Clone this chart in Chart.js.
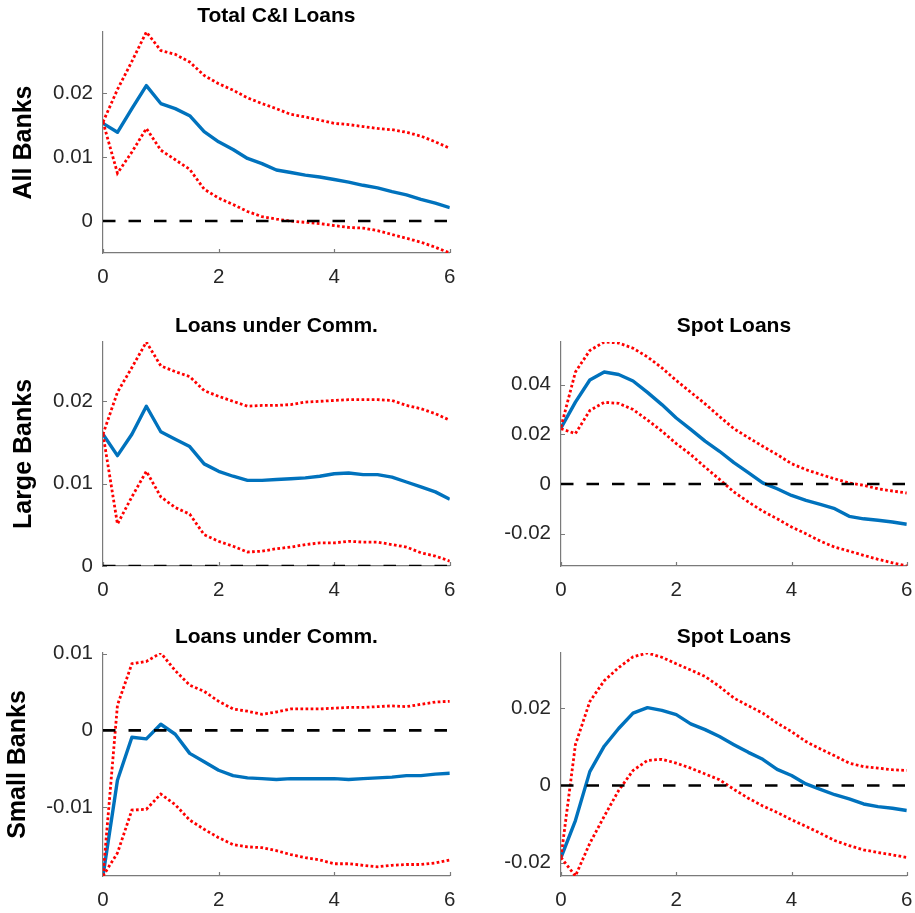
<!DOCTYPE html>
<html lang="en">
<head>
    <meta charset="UTF-8">
    <title>C&amp;I loan responses by bank size</title>
    <script src="https://cdn.jsdelivr.net/npm/chart.js@4.4.0/dist/chart.umd.min.js"></script>
    <style>
        body { margin: 0; background: #fff; overflow: hidden; }
        #figure { position: relative; width: 915px; height: 913px; background: #fff; overflow: hidden; }
        .panel { position: absolute; }
        .panel canvas { display: block; }
    </style>
</head>
<body>

<div id="figure">
    <div class="panel" style="left:0;top:0"><canvas id="allTotal" width="468" height="290"></canvas></div>
    <div class="panel" style="left:0;top:310px"><canvas id="largeComm" width="468" height="293"></canvas></div>
    <div class="panel" style="left:460px;top:310px"><canvas id="largeSpot" width="465" height="293"></canvas></div>
    <div class="panel" style="left:0;top:621px"><canvas id="smallComm" width="468" height="292"></canvas></div>
    <div class="panel" style="left:460px;top:621px"><canvas id="smallSpot" width="465" height="292"></canvas></div>
</div>

<script>
    // horizon (years), one point per quarter
    const horizon = [0, 0.25, 0.5, 0.75, 1, 1.25, 1.5, 1.75, 2, 2.25, 2.5, 2.75, 3,
        3.25, 3.5, 3.75, 4, 4.25, 4.5, 4.75, 5, 5.25, 5.5, 5.75, 6];
    const xTicks = [0, 2, 4, 6];

    // All banks - total C&I loans
    const allTotalIrf = [0.0153, 0.0139, 0.0176, 0.0212, 0.0184, 0.0176, 0.0165, 0.0140, 0.0124, 0.0112, 0.0098, 0.0090, 0.0080,
        0.0076, 0.0072, 0.0069, 0.0065, 0.0061, 0.0056, 0.0052, 0.0046, 0.0041, 0.0034, 0.0028, 0.0021];
    const allTotalUpper = [0.0155, 0.0206, 0.0250, 0.0296, 0.0267, 0.0261, 0.0249, 0.0228, 0.0215, 0.0205, 0.0193, 0.0184, 0.0176,
        0.0167, 0.0163, 0.0158, 0.0153, 0.0151, 0.0148, 0.0145, 0.0143, 0.0139, 0.0133, 0.0124, 0.0114];
    const allTotalLower = [0.0155, 0.0075, 0.0108, 0.0145, 0.0111, 0.0096, 0.0081, 0.0050, 0.0036, 0.0026, 0.0015, 0.0007, 0.0003,
        0.0000, -0.0002, -0.0004, -0.0007, -0.0010, -0.0011, -0.0015, -0.0021, -0.0027, -0.0033, -0.0041, -0.0050];
    const allTotalTicks = [0, 0.01, 0.02];

    // Large banks - loans under commitment
    const largeCommIrf = [0.0160, 0.0134, 0.0160, 0.0194, 0.0163, 0.0154, 0.0145, 0.0124, 0.0115, 0.0109, 0.0104, 0.0104, 0.0105,
        0.0106, 0.0107, 0.0109, 0.0112, 0.0113, 0.0111, 0.0111, 0.0108, 0.0102, 0.0096, 0.0090, 0.0081];
    const largeCommUpper = [0.0160, 0.0211, 0.0241, 0.0272, 0.0243, 0.0236, 0.0230, 0.0213, 0.0206, 0.0200, 0.0194, 0.0195, 0.0195,
        0.0196, 0.0199, 0.0200, 0.0201, 0.0202, 0.0202, 0.0202, 0.0201, 0.0195, 0.0191, 0.0185, 0.0177];
    const largeCommLower = [0.0160, 0.0051, 0.0084, 0.0115, 0.0084, 0.0071, 0.0063, 0.0038, 0.0030, 0.0024, 0.0017, 0.0018, 0.0021,
        0.0023, 0.0026, 0.0028, 0.0028, 0.0030, 0.0029, 0.0029, 0.0026, 0.0023, 0.0016, 0.0012, 0.0006];
    const largeCommTicks = [0, 0.01, 0.02];

    // Large banks - spot loans
    const largeSpotIrf = [0.0226, 0.0330, 0.0419, 0.0451, 0.0441, 0.0415, 0.0369, 0.0320, 0.0266, 0.0220, 0.0173, 0.0132, 0.0086,
        0.0046, 0.0005, -0.0019, -0.0046, -0.0066, -0.0082, -0.0099, -0.0130, -0.0140, -0.0146, -0.0153, -0.0162];
    const largeSpotUpper = [0.0230, 0.0451, 0.0538, 0.0572, 0.0568, 0.0547, 0.0512, 0.0468, 0.0417, 0.0370, 0.0323, 0.0272, 0.0223,
        0.0187, 0.0152, 0.0119, 0.0082, 0.0058, 0.0039, 0.0021, 0.0004, -0.0005, -0.0019, -0.0028, -0.0036];
    const largeSpotLower = [0.0223, 0.0203, 0.0296, 0.0329, 0.0325, 0.0300, 0.0258, 0.0213, 0.0163, 0.0119, 0.0068, 0.0019, -0.0032,
        -0.0072, -0.0109, -0.0140, -0.0173, -0.0200, -0.0230, -0.0254, -0.0270, -0.0287, -0.0303, -0.0317, -0.0330];
    const largeSpotTicks = [-0.02, 0, 0.02, 0.04];

    // Small banks - loans under commitment
    const smallCommIrf = [-0.0190, -0.0065, -0.0009, -0.0011, 0.0008, -0.0005, -0.0030, -0.0041, -0.0052, -0.0059, -0.0062, -0.0063, -0.0064,
        -0.0063, -0.0063, -0.0063, -0.0063, -0.0064, -0.0063, -0.0062, -0.0061, -0.0059, -0.0059, -0.0057, -0.0056];
    const smallCommUpper = [-0.0190, 0.0033, 0.0087, 0.0090, 0.0101, 0.0078, 0.0059, 0.0051, 0.0038, 0.0028, 0.0025, 0.0021, 0.0024,
        0.0028, 0.0028, 0.0028, 0.0029, 0.0030, 0.0030, 0.0031, 0.0032, 0.0031, 0.0034, 0.0037, 0.0038];
    const smallCommLower = [-0.0190, -0.0160, -0.0104, -0.0103, -0.0083, -0.0097, -0.0117, -0.0129, -0.0140, -0.0149, -0.0152, -0.0153, -0.0157,
        -0.0162, -0.0166, -0.0169, -0.0174, -0.0174, -0.0176, -0.0178, -0.0176, -0.0175, -0.0175, -0.0173, -0.0169];
    const smallCommTicks = [-0.01, 0, 0.01];

    // Small banks - spot loans
    const smallSpotIrf = [-0.0187, -0.0091, 0.0036, 0.0102, 0.0148, 0.0188, 0.0202, 0.0195, 0.0184, 0.0160, 0.0145, 0.0127, 0.0106,
        0.0086, 0.0068, 0.0042, 0.0026, 0.0004, -0.0010, -0.0024, -0.0035, -0.0048, -0.0055, -0.0059, -0.0065];
    const smallSpotUpper = [-0.0186, 0.0106, 0.0218, 0.0272, 0.0306, 0.0334, 0.0344, 0.0333, 0.0316, 0.0300, 0.0283, 0.0257, 0.0227,
        0.0207, 0.0188, 0.0162, 0.0140, 0.0114, 0.0095, 0.0077, 0.0058, 0.0049, 0.0045, 0.0041, 0.0039];
    const smallSpotLower = [-0.0187, -0.0235, -0.0150, -0.0080, -0.0013, 0.0039, 0.0065, 0.0068, 0.0058, 0.0045, 0.0030, 0.0015, -0.0010,
        -0.0033, -0.0053, -0.0070, -0.0089, -0.0106, -0.0124, -0.0143, -0.0156, -0.0167, -0.0174, -0.0180, -0.0187];
    const smallSpotTicks = [-0.02, 0, 0.02];


    const irfBlue = '#0072BD';
    const bandRed = '#FF0000';
    const axisGrey = '#7a7a7a';
    const tickColor = '#262626';

    Chart.defaults.font.family = "'Liberation Sans', Arial, Helvetica, sans-serif";
    Chart.defaults.animation = false;

    // short tick marks pointing into the plot, drawn under the lines
    const innerTicks = {
        id: 'innerTicks',
        beforeDatasetsDraw(chart) {
            const {ctx, chartArea} = chart;
            const xs = chart.scales.x, ys = chart.scales.y;
            ctx.save();
            ctx.strokeStyle = axisGrey;
            ctx.lineWidth = 1.2;
            ctx.beginPath();
            xs.ticks.forEach(t => {
                const px = Math.round(xs.getPixelForValue(t.value)) + 0.5;
                ctx.moveTo(px, chartArea.bottom);
                ctx.lineTo(px, chartArea.bottom - 4);
            });
            ys.ticks.forEach(t => {
                const py = Math.round(ys.getPixelForValue(t.value)) + 0.5;
                ctx.moveTo(chartArea.left, py);
                ctx.lineTo(chartArea.left + 4, py);
            });
            ctx.stroke();
            ctx.restore();
        }
    };

    function points(values) {
        return values.map((v, i) => ({x: horizon[i], y: v}));
    }

    function makePanel(canvasId, p) {
        // tight limits around everything that is drawn, zero line included
        const all = [0].concat(p.irf, p.upper, p.lower);
        const lo = Math.min(...all);
        const hi = Math.max(...all);

        const lineBase = {pointRadius: 0, tension: 0, fill: false, borderCapStyle: 'butt'};
        const dotted = {borderColor: bandRed, borderWidth: 2.8, borderDash: [2.7, 2.4]};

        return new Chart(document.getElementById(canvasId), {
            type: 'line',
            data: {
                datasets: [
                    Object.assign({}, lineBase, {
                        data: [{x: horizon[0], y: 0}, {x: horizon[horizon.length - 1], y: 0}],
                        borderColor: '#000', borderWidth: 2.6, borderDash: [12.5, 13]
                    }),
                    Object.assign({}, lineBase, dotted, {data: points(p.upper)}),
                    Object.assign({}, lineBase, dotted, {data: points(p.lower)}),
                    Object.assign({}, lineBase, {
                        data: points(p.irf), borderColor: irfBlue, borderWidth: 3.4, borderJoinStyle: 'round'
                    })
                ]
            },
            options: {
                responsive: false,
                animation: false,
                // the right edge is set by the last x label's overhang, so no extra padding
                layout: {padding: 0},
                plugins: {
                    legend: {display: false},
                    tooltip: {enabled: false},
                    title: {
                        display: true,
                        text: p.title,
                        fullSize: false,
                        color: '#000',
                        font: {size: 21, weight: 'bold'},
                        padding: {top: 3.2, bottom: 3.6}
                    }
                },
                scales: {
                    x: {
                        type: 'linear',
                        min: 0,
                        max: 6,
                        grid: {display: false, drawTicks: false},
                        border: {color: axisGrey, width: 1.2},
                        ticks: {color: tickColor, font: {size: 20.5}, padding: 12.5, maxRotation: 0, autoSkip: false},
                        afterBuildTicks: s => { s.ticks = xTicks.map(v => ({value: v})); },
                        afterFit: s => { s.height = 37; }
                    },
                    y: {
                        type: 'linear',
                        min: lo,
                        max: hi,
                        grid: {display: false, drawTicks: false},
                        border: {color: axisGrey, width: 1.2},
                        ticks: {
                            color: tickColor, font: {size: 20.5}, padding: 10, autoSkip: false,
                            callback: v => String(+v.toFixed(3))
                        },
                        afterBuildTicks: s => { s.ticks = p.yTicks.map(v => ({value: v})); },
                        afterFit: s => { s.width = p.yAxisWidth; },
                        title: p.rowLabel ? {
                            display: true,
                            text: p.rowLabel,
                            color: '#000',
                            font: {size: 25, weight: 'bold'},
                            padding: {top: p.rowLabelPad, bottom: 0}
                        } : {display: false}
                    }
                }
            },
            plugins: [innerTicks]
        });
    }

    makePanel('allTotal', {
        title: 'Total C&I Loans', rowLabel: 'All Banks', rowLabelPad: 9.5,
        irf: allTotalIrf, upper: allTotalUpper, lower: allTotalLower, yTicks: allTotalTicks,
        yAxisWidth: 103
    });
    makePanel('largeComm', {
        title: 'Loans under Comm.', rowLabel: 'Large Banks', rowLabelPad: 8.7,
        irf: largeCommIrf, upper: largeCommUpper, lower: largeCommLower, yTicks: largeCommTicks,
        yAxisWidth: 103
    });
    makePanel('largeSpot', {
        title: 'Spot Loans',
        irf: largeSpotIrf, upper: largeSpotUpper, lower: largeSpotLower, yTicks: largeSpotTicks,
        yAxisWidth: 101
    });
    makePanel('smallComm', {
        title: 'Loans under Comm.', rowLabel: 'Small Banks', rowLabelPad: 3.3,
        irf: smallCommIrf, upper: smallCommUpper, lower: smallCommLower, yTicks: smallCommTicks,
        yAxisWidth: 103
    });
    makePanel('smallSpot', {
        title: 'Spot Loans',
        irf: smallSpotIrf, upper: smallSpotUpper, lower: smallSpotLower, yTicks: smallSpotTicks,
        yAxisWidth: 101
    });
</script>
</body>
</html>
